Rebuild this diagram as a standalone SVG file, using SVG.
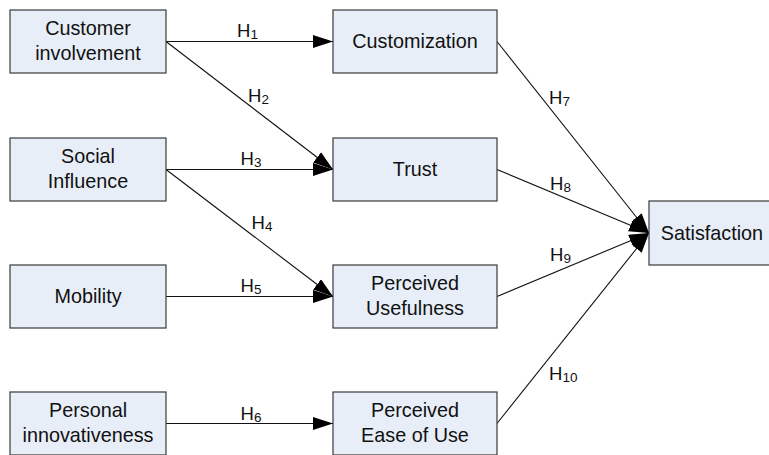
<svg xmlns="http://www.w3.org/2000/svg" width="769" height="455" viewBox="0 0 769 455">
<style>
.box{fill:#e8eef8;stroke:#3a3a3a;stroke-width:1.2}
.t{font-family:"Liberation Sans",Arial,sans-serif;font-size:19.8px;fill:#111;text-anchor:middle}
.h{font-family:"Liberation Sans",Arial,sans-serif;font-size:18.5px;fill:#111}
.s{font-size:13.5px}
.c{stroke:#111;stroke-width:1.1;fill:none;marker-end:url(#arr)}
</style>
<defs>
<marker id="arr" markerUnits="userSpaceOnUse" markerWidth="21" markerHeight="14" refX="20" refY="6.5" orient="auto">
<path d="M0,0 L20,6.5 L0,13 z" fill="#000"/>
</marker>
</defs>
<rect width="769" height="455" fill="#fff"/>
<g id="connectors">
<line class="c" x1="166" y1="41.5" x2="333" y2="41.5"/>
<line class="c" x1="166" y1="41.5" x2="333" y2="169.5"/>
<line class="c" x1="166" y1="169.5" x2="333" y2="169.5"/>
<line class="c" x1="166" y1="169.5" x2="333" y2="296.5"/>
<line class="c" x1="166" y1="296.5" x2="333" y2="296.5"/>
<line class="c" x1="166" y1="423.5" x2="333" y2="423.5"/>
<line class="c" x1="497" y1="41.5" x2="649" y2="233"/>
<line class="c" x1="497" y1="169.5" x2="649" y2="233"/>
<line class="c" x1="497" y1="296.5" x2="649" y2="233"/>
<line class="c" x1="497" y1="423.5" x2="649" y2="233"/>
<text class="h" x="237" y="37">H<tspan class="s" dy="2">1</tspan></text>
<text class="h" x="248" y="102">H<tspan class="s" dy="2">2</tspan></text>
<text class="h" x="240.5" y="165">H<tspan class="s" dy="2">3</tspan></text>
<text class="h" x="251.5" y="229">H<tspan class="s" dy="2">4</tspan></text>
<text class="h" x="240.5" y="292">H<tspan class="s" dy="2">5</tspan></text>
<text class="h" x="240.5" y="420">H<tspan class="s" dy="2">6</tspan></text>
<text class="h" x="549" y="104">H<tspan class="s" dy="2">7</tspan></text>
<text class="h" x="550" y="190">H<tspan class="s" dy="2">8</tspan></text>
<text class="h" x="550" y="260.5">H<tspan class="s" dy="2">9</tspan></text>
<text class="h" x="549" y="380">H<tspan class="s" dy="2">10</tspan></text>
</g>
<g id="n-customer-involvement">
<rect class="box" x="10" y="10" width="156" height="63"/>
<text class="t" x="88" y="35">Customer</text>
<text class="t" x="88" y="60">involvement</text>
</g>
<g id="n-social-influence">
<rect class="box" x="10" y="138" width="156" height="63"/>
<text class="t" x="88" y="163">Social</text>
<text class="t" x="88" y="188">Influence</text>
</g>
<g id="n-mobility">
<rect class="box" x="10" y="265" width="156" height="63"/>
<text class="t" x="88" y="303">Mobility</text>
</g>
<g id="n-personal-innovativeness">
<rect class="box" x="10" y="392" width="156" height="63"/>
<text class="t" x="88" y="417">Personal</text>
<text class="t" x="88" y="442">innovativeness</text>
</g>
<g id="n-customization">
<rect class="box" x="333" y="10" width="164" height="63"/>
<text class="t" x="415" y="48">Customization</text>
</g>
<g id="n-trust">
<rect class="box" x="333" y="138" width="164" height="63"/>
<text class="t" x="415" y="176">Trust</text>
</g>
<g id="n-perceived-usefulness">
<rect class="box" x="333" y="265" width="164" height="63"/>
<text class="t" x="415" y="290">Perceived</text>
<text class="t" x="415" y="315">Usefulness</text>
</g>
<g id="n-perceived-ease-of-use">
<rect class="box" x="333" y="392" width="164" height="63"/>
<text class="t" x="415" y="417">Perceived</text>
<text class="t" x="415" y="442">Ease of Use</text>
</g>
<g id="n-satisfaction">
<rect class="box" x="649" y="201" width="126" height="64"/>
<text class="t" x="712" y="240">Satisfaction</text>
</g>
</svg>
